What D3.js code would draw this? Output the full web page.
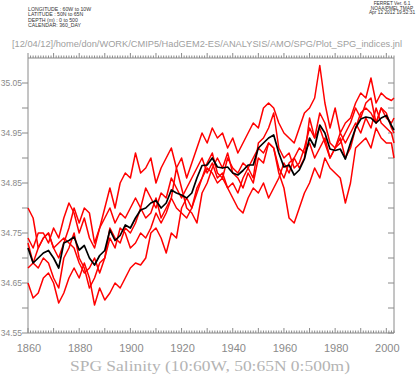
<!DOCTYPE html>
<html>
<head>
<meta charset="utf-8">
<script src="https://cdn.jsdelivr.net/npm/d3@7"></script>
<style>
  body { margin: 0; background: #fff; }
  svg { display: block; }
</style>
</head>
<body>
<div id="content"></div>
<script>
const years = [1860, 1862, 1864, 1866, 1868, 1870, 1872, 1874, 1876, 1878,
    1880, 1882, 1884, 1886, 1888, 1890, 1892, 1894, 1896, 1898,
    1900, 1902, 1904, 1906, 1908, 1910, 1912, 1914, 1916, 1918,
    1920, 1922, 1924, 1926, 1928, 1930, 1932, 1934, 1936, 1938,
    1940, 1942, 1944, 1946, 1948, 1950, 1952, 1954, 1956, 1958,
    1960, 1962, 1964, 1966, 1968, 1970, 1972, 1974, 1976, 1978,
    1980, 1982, 1984, 1986, 1988, 1990, 1992, 1994, 1996, 1998,
    2000, 2002, 2003]

// ensemble members (red)
const member1 = [34.74, 34.72, 34.75, 34.75, 34.73, 34.76, 34.74, 34.78, 34.81, 34.79,
    34.75, 34.78, 34.74, 34.72, 34.76, 34.80, 34.84, 34.80, 34.85, 34.87,
    34.86, 34.91, 34.87, 34.88, 34.90, 34.85, 34.88, 34.90, 34.92, 34.88,
    34.90, 34.86, 34.89, 34.92, 34.95, 34.93, 34.96, 34.94, 34.95, 34.92,
    34.94, 34.91, 34.93, 34.95, 34.97, 34.96, 35.00, 35.01, 35.00, 34.97,
    34.95, 34.94, 34.93, 34.96, 34.99, 35.00, 35.02, 35.085, 35.01, 34.96,
    35.00, 34.95, 34.97, 34.98, 35.01, 35.03, 35.02, 35.06, 35.01, 35.03,
    35.02, 35.015, 35.02]
const member2 = [34.80, 34.78, 34.72, 34.74, 34.75, 34.72, 34.70, 34.73, 34.76, 34.80,
    34.77, 34.80, 34.79, 34.73, 34.76, 34.78, 34.80, 34.77, 34.79, 34.78,
    34.80, 34.82, 34.80, 34.84, 34.82, 34.80, 34.83, 34.82, 34.86, 34.84,
    34.82, 34.84, 34.86, 34.88, 34.90, 34.87, 34.89, 34.86, 34.87, 34.84,
    34.85, 34.83, 34.86, 34.88, 34.90, 34.92, 34.91, 34.93, 34.92, 34.87,
    34.84, 34.78, 34.77, 34.80, 34.83, 34.85, 34.88, 34.86, 34.90, 34.88,
    34.87, 34.86, 34.81, 34.85, 34.92, 34.93, 34.94, 34.92, 34.96, 34.94,
    34.93, 34.93, 34.90]
const member3 = [34.65, 34.62, 34.63, 34.66, 34.67, 34.65, 34.61, 34.63, 34.66, 34.68,
    34.66, 34.69, 34.66, 34.606, 34.64, 34.616, 34.63, 34.65, 34.64, 34.66,
    34.68, 34.69, 34.686, 34.70, 34.75, 34.76, 34.74, 34.71, 34.75, 34.74,
    34.80, 34.82, 34.80, 34.83, 34.86, 34.88, 34.87, 34.85, 34.86, 34.84,
    34.82, 34.80, 34.79, 34.82, 34.84, 34.83, 34.85, 34.82, 34.84, 34.86,
    34.89, 34.87, 34.90, 34.92, 34.91, 34.93, 34.90, 34.92, 34.94, 34.90,
    34.92, 34.95, 34.93, 34.95, 34.97, 34.95, 34.98, 34.96, 35.00, 34.97,
    34.96, 34.95, 34.93]
const member4 = [34.73, 34.69, 34.68, 34.70, 34.69, 34.66, 34.64, 34.70, 34.72, 34.75,
    34.70, 34.68, 34.64, 34.66, 34.69, 34.70, 34.76, 34.74, 34.73, 34.76,
    34.75, 34.77, 34.80, 34.78, 34.79, 34.82, 34.78, 34.80, 34.82, 34.80,
    34.79, 34.78, 34.80, 34.84, 34.86, 34.89, 34.91, 34.87, 34.86, 34.90,
    34.88, 34.87, 34.89, 34.88, 34.86, 34.93, 34.94, 34.96, 34.99, 34.92,
    34.90, 34.91, 34.88, 34.89, 34.92, 34.96, 34.94, 34.99, 34.97, 34.93,
    34.92, 34.94, 34.90, 34.92, 34.96, 34.99, 35.00, 34.99, 34.97, 35.00,
    34.99, 34.96, 34.95]
const member5 = [34.68, 34.69, 34.72, 34.74, 34.75, 34.72, 34.73, 34.74, 34.73, 34.72,
    34.69, 34.67, 34.68, 34.70, 34.67, 34.70, 34.74, 34.72, 34.76, 34.75,
    34.72, 34.73, 34.75, 34.74, 34.76, 34.79, 34.77, 34.79, 34.82, 34.88,
    34.84, 34.80, 34.79, 34.77, 34.83, 34.85, 34.88, 34.90, 34.88, 34.91,
    34.87, 34.86, 34.84, 34.87, 34.85, 34.90, 34.89, 34.93, 34.92, 34.88,
    34.86, 34.89, 34.90, 34.88, 34.90, 34.98, 34.94, 34.96, 34.93, 34.90,
    34.92, 34.93, 34.95, 34.97, 35.00, 34.98, 35.01, 35.02, 34.97, 35.00,
    34.98, 34.97, 34.98]
// ensemble mean (black)
const ensembleMean = [34.72, 34.69, 34.70, 34.71, 34.715, 34.70, 34.68, 34.73, 34.735, 34.742,
    34.716, 34.725, 34.70, 34.686, 34.705, 34.715, 34.756, 34.735, 34.745, 34.766,
    34.76, 34.78, 34.796, 34.80, 34.81, 34.815, 34.80, 34.81, 34.836, 34.83,
    34.826, 34.82, 34.83, 34.86, 34.885, 34.886, 34.90, 34.882, 34.88, 34.882,
    34.87, 34.866, 34.875, 34.886, 34.886, 34.92, 34.93, 34.94, 34.946, 34.91,
    34.882, 34.886, 34.866, 34.876, 34.898, 34.94, 34.922, 34.966, 34.95, 34.918,
    34.915, 34.918, 34.898, 34.93, 34.96, 34.978, 34.982, 34.98, 34.97, 34.98,
    34.985, 34.965, 34.956]

const members = [member1, member2, member3, member4, member5]

const yTickValues = [34.55, 34.65, 34.75, 34.85, 34.95, 35.05]
const yMinorValues = [34.60, 34.70, 34.80, 34.90, 35.00]
const xTickValues = [1860, 1880, 1900, 1920, 1940, 1960, 1980, 2000]

const headerLeft = ['LONGITUDE : 60W to 10W', 'LATITUDE : 50N to 65N', 'DEPTH (m) : 0 to 500', 'CALENDAR: 360_DAY']
const headerRight = ['FERRET Ver. 6.1', 'NOAA/PMEL TMAP', 'Apr 12 2012 19:52:31']
const pathTitle = '[12/04/12]/home/don/WORK/CMIP5/HadGEM2-ES/ANALYSIS/AMO/SPG/Plot_SPG_indices.jnl'
const chartTitle = 'SPG Salinity (10:60W, 50:65N 0:500m)'

const width = 417
const height = 377
const plot = { left: 28, right: 394, top: 58, bottom: 333 }
const axisColor = '#8a8a8a'
const textColor = '#8a8a8a'

const svg = d3.select('#content')
    .append('svg')
    .attr('width', width)
    .attr('height', height)

const scaleX = d3.scaleLinear()
    .domain([1860, 2003])
    .range([plot.left, plot.right])

const scaleY = d3.scaleLinear()
    .domain([34.55, 35.10])
    .range([plot.bottom, plot.top])

// header texts
svg.append('g')
    .selectAll('text')
    .data(headerLeft)
    .join('text')
    .text(d => d)
    .attr('x', 28)
    .attr('y', (d, i) => 11 + i * 5.3)
    .attr('font-family', 'Liberation Sans, Arial, sans-serif')
    .attr('font-size', 5.2)
    .attr('fill', '#333')

svg.append('g')
    .selectAll('text')
    .data(headerRight)
    .join('text')
    .text(d => d)
    .attr('x', 392)
    .attr('y', (d, i) => 5 + i * 4.6)
    .attr('text-anchor', 'middle')
    .attr('font-family', 'Liberation Sans, Arial, sans-serif')
    .attr('font-size', 4.8)
    .attr('fill', '#333')

svg.append('text')
    .text(pathTitle)
    .attr('x', 12)
    .attr('y', 47)
    .attr('textLength', 390)
    .attr('lengthAdjust', 'spacingAndGlyphs')
    .attr('font-family', 'Liberation Sans, Arial, sans-serif')
    .attr('font-size', 9.5)
    .attr('fill', '#a0a0a0')

// frame
const frame = svg.append('g').attr('stroke', axisColor).attr('stroke-width', 1)
frame.append('line').attr('x1', plot.left).attr('x2', plot.left).attr('y1', plot.top).attr('y2', plot.bottom)
frame.append('line').attr('x1', plot.right).attr('x2', plot.right).attr('y1', plot.top).attr('y2', plot.bottom)
frame.append('line').attr('x1', plot.left).attr('x2', plot.right).attr('y1', plot.top).attr('y2', plot.top)
frame.append('line').attr('x1', plot.left).attr('x2', plot.right).attr('y1', plot.bottom).attr('y2', plot.bottom)

// yearly ticks on top and bottom
const yearTicks = scaleX.ticks(150).filter(d => Number.isInteger(d))
const tickLen = d => d % 10 === 0 ? 5 : 2.5

frame.append('g')
    .selectAll('line')
    .data(yearTicks)
    .join('line')
    .attr('x1', d => scaleX(d))
    .attr('x2', d => scaleX(d))
    .attr('y1', plot.bottom)
    .attr('y2', d => plot.bottom - tickLen(d))

frame.append('g')
    .selectAll('line')
    .data(yearTicks)
    .join('line')
    .attr('x1', d => scaleX(d))
    .attr('x2', d => scaleX(d))
    .attr('y1', plot.top)
    .attr('y2', d => plot.top - tickLen(d))

// y ticks left (outward) and right (inward)
frame.append('g')
    .selectAll('line')
    .data(yTickValues.concat(yMinorValues))
    .join('line')
    .attr('x1', plot.left)
    .attr('x2', plot.left - 6)
    .attr('y1', d => scaleY(d))
    .attr('y2', d => scaleY(d))

frame.append('g')
    .selectAll('line')
    .data(yTickValues.concat(yMinorValues))
    .join('line')
    .attr('x1', plot.right)
    .attr('x2', plot.right - 6)
    .attr('y1', d => scaleY(d))
    .attr('y2', d => scaleY(d))

// tick labels
svg.append('g')
    .selectAll('text')
    .data(yTickValues)
    .join('text')
    .text(d => d.toFixed(2))
    .attr('x', 22)
    .attr('y', d => scaleY(d) + 3)
    .attr('text-anchor', 'end')
    .attr('font-family', 'Liberation Sans, Arial, sans-serif')
    .attr('font-size', 8.5)
    .attr('fill', textColor)

svg.append('g')
    .selectAll('text')
    .data(xTickValues)
    .join('text')
    .text(d => d)
    .attr('x', d => scaleX(d) + 1)
    .attr('y', 352)
    .attr('text-anchor', 'middle')
    .attr('font-family', 'Liberation Sans, Arial, sans-serif')
    .attr('font-size', 11)
    .attr('fill', textColor)

svg.append('text')
    .text(chartTitle)
    .attr('x', 70)
    .attr('y', 371)
    .attr('textLength', 280)
    .attr('lengthAdjust', 'spacingAndGlyphs')
    .attr('font-family', 'Liberation Serif, serif')
    .attr('font-size', 14)
    .attr('fill', '#b4b4b4')

// series
const line = d3.line()
    .x((d, i) => scaleX(years[i]))
    .y(d => scaleY(d))

svg.append('g')
    .selectAll('path')
    .data(members)
    .join('path')
    .attr('d', line)
    .attr('fill', 'none')
    .attr('stroke', '#ff0000')
    .attr('stroke-width', 1.5)
    .attr('stroke-linejoin', 'round')

svg.append('path')
    .datum(ensembleMean)
    .attr('d', line)
    .attr('fill', 'none')
    .attr('stroke', '#000')
    .attr('stroke-width', 1.7)
    .attr('stroke-linejoin', 'round')
</script>
</body>
</html>
